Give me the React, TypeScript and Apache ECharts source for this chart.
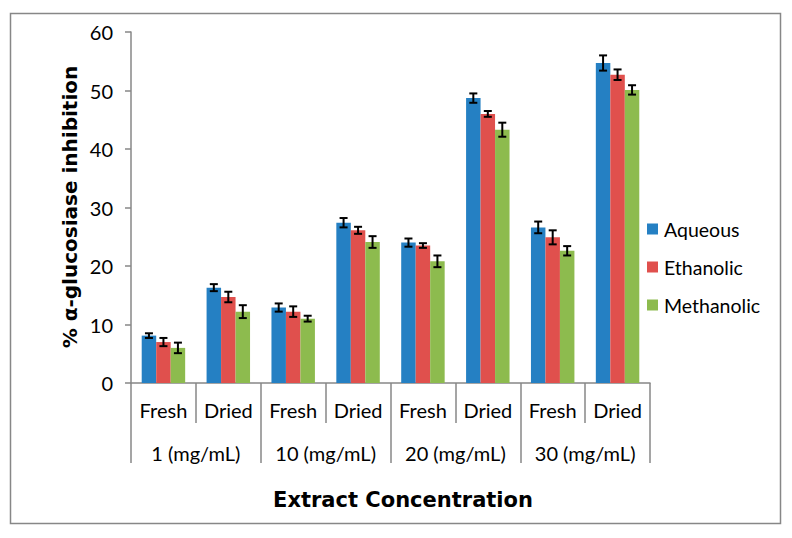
import React, { useEffect, useRef } from "react";
import * as echarts from "echarts";

const forms = ["Fresh", "Dried", "Fresh", "Dried", "Fresh", "Dried", "Fresh", "Dried"];
const concentrations = ["1 (mg/mL)", "10 (mg/mL)", "20 (mg/mL)", "30 (mg/mL)"];
const seriesNames = ["Aqueous", "Ethanolic", "Methanolic"];
const aqueous = [8.1, 16.3, 12.9, 27.4, 24.0, 48.7, 26.6, 54.7];
const ethanolic = [7.0, 14.7, 12.2, 26.1, 23.5, 46.0, 24.9, 52.7];
const methanolic = [6.0, 12.2, 11.0, 24.1, 20.8, 43.3, 22.6, 50.1];
const aqueousErr = [0.4, 0.6, 0.7, 0.8, 0.7, 0.8, 1.0, 1.3];
const ethanolicErr = [0.7, 0.9, 0.9, 0.6, 0.4, 0.5, 1.2, 0.9];
const methanolicErr = [0.9, 1.1, 0.5, 1.0, 1.0, 1.2, 0.8, 0.8];
const colors = ["#2580C3", "#E0504D", "#8DBB4E"];

const FONT = "Lato";
const AXIS_GRAY = "#878787";
const CAT_GAP = 0.33;

export default function App() {
  const ref = useRef<HTMLDivElement>(null);
  useEffect(() => {
    document.body.style.margin = "0";
    if (!ref.current) return;
    const chart = echarts.init(ref.current, null, { renderer: "svg" });
    const values = [aqueous, ethanolic, methanolic];
    const errs = [aqueousErr, ethanolicErr, methanolicErr];

    const barSeries = values.map((v, i) => ({
      type: "bar",
      name: seriesNames[i],
      data: v,
      xAxisIndex: 0,
      yAxisIndex: 0,
      barGap: "0%",
      barCategoryGap: "33%",
      itemStyle: { color: colors[i] },
    }));

    const errSeries = values.map((v, si) => ({
      type: "custom",
      name: seriesNames[si] + " error",
      xAxisIndex: 0,
      yAxisIndex: 0,
      z: 10,
      silent: true,
      data: v.map((val, ci) => [ci, val - errs[si][ci], val + errs[si][ci]]),
      renderItem: (params: any, api: any) => {
        const ci = api.value(0);
        const lo = api.coord([ci, api.value(1)]);
        const hi = api.coord([ci, api.value(2)]);
        const band = api.size([1, 0])[0];
        const bw = (band * (1 - CAT_GAP)) / 3;
        const x = lo[0] + (si - 1) * bw;
        const cap = 4;
        const style = { stroke: "#000", lineWidth: 2 };
        return {
          type: "group",
          children: [
            { type: "line", shape: { x1: x, y1: lo[1], x2: x, y2: hi[1] }, style },
            { type: "line", shape: { x1: x - cap, y1: lo[1], x2: x + cap, y2: lo[1] }, style },
            { type: "line", shape: { x1: x - cap, y1: hi[1], x2: x + cap, y2: hi[1] }, style },
          ],
        };
      },
    }));

    chart.setOption({
      animation: false,
      grid: { left: 131, right: 142, top: 32, bottom: 155, containLabel: false },
      legend: {
        data: seriesNames,
        orient: "vertical",
        left: 642,
        top: 214,
        itemWidth: 11,
        itemHeight: 11,
        itemGap: 18,
        icon: "rect",
        textStyle: { fontFamily: FONT, fontSize: 19.5, color: "#000", padding: [0, 0, 0, 1] },
      },
      xAxis: [
        {
          type: "category",
          data: forms,
          position: "bottom",
          axisLine: { lineStyle: { color: AXIS_GRAY, width: 1.5 } },
          axisTick: { show: true, interval: 0, length: 40, lineStyle: { color: AXIS_GRAY, width: 1.5 } },
          axisLabel: { interval: 0, fontFamily: FONT, fontSize: 20, color: "#000", margin: 17 },
        },
        {
          type: "category",
          data: concentrations,
          position: "bottom",
          offset: 40,
          axisLine: { show: false },
          axisTick: { show: true, interval: 0, length: 40, lineStyle: { color: AXIS_GRAY, width: 1.5 } },
          axisLabel: { interval: 0, fontFamily: FONT, fontSize: 20, color: "#000", margin: 20 },
        },
      ],
      yAxis: {
        type: "value",
        min: 0,
        max: 60,
        interval: 10,
        splitLine: { show: false },
        axisLine: { show: true, lineStyle: { color: AXIS_GRAY, width: 1.5 } },
        axisTick: { show: true, length: 6, lineStyle: { color: AXIS_GRAY, width: 1.5 } },
        axisLabel: { fontFamily: FONT, fontSize: 20, color: "#000", margin: 18 },
      },
      graphic: [
        {
          type: "rect",
          shape: { x: 10.5, y: 13.5, width: 770, height: 510 },
          style: { fill: "none", stroke: AXIS_GRAY, lineWidth: 1.5 },
          silent: true,
        },
        {
          type: "text",
          x: 70,
          y: 207,
          rotation: Math.PI / 2,
          style: {
            text: "% α-glucosiase inhibition",
            font: "bold 20px 'DejaVu Sans'",
            fill: "#000",
            align: "center",
            verticalAlign: "middle",
          },
        },
        {
          type: "text",
          x: 403,
          y: 500,
          style: {
            text: "Extract Concentration",
            font: "bold 21px 'DejaVu Sans'",
            fill: "#000",
            align: "center",
            verticalAlign: "middle",
          },
        },
      ],
      series: [...barSeries, ...errSeries],
    });
    return () => chart.dispose();
  }, []);
  return <div ref={ref} style={{ width: 792, height: 538 }} />;
}
